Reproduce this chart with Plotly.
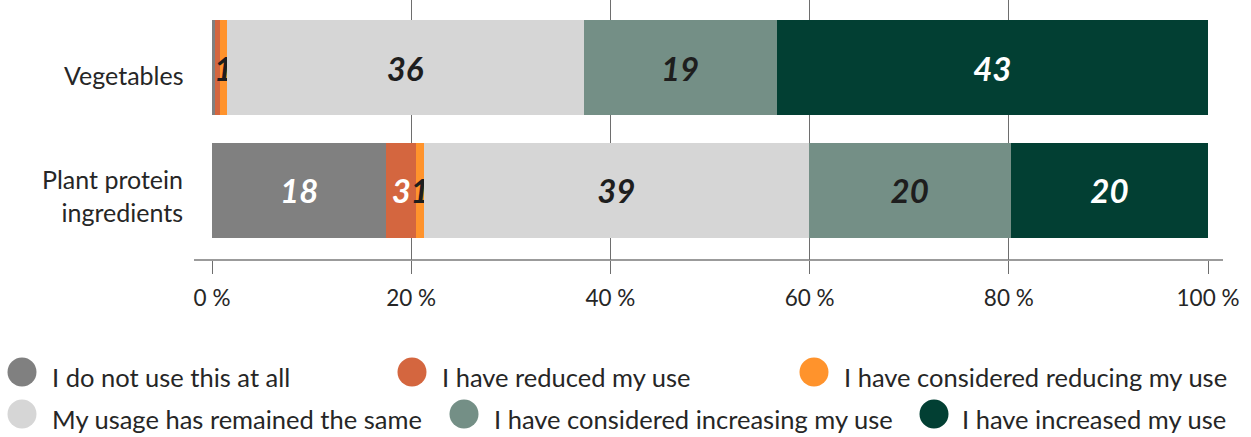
import plotly.graph_objects as go

# Survey answers, share of respondents (%)
categories = ["Vegetables", "Plant protein<br>ingredients"]
series_names = [
    "I do not use this at all",
    "I have reduced my use",
    "I have considered reducing my use",
    "My usage has remained the same",
    "I have considered increasing my use",
    "I have increased my use",
]
not_used = [0.3, 17.5]
reduced = [0.5, 3.0]
considered_reducing = [0.7, 0.8]
remained_same = [35.8, 38.6]
considered_increasing = [19.4, 20.3]
increased = [43.3, 19.8]
series_values = [not_used, reduced, considered_reducing,
                 remained_same, considered_increasing, increased]

x_ticks = [0, 20, 40, 60, 80, 100]
x_tick_labels = ["0 %", "20 %", "40 %", "60 %", "80 %", "100 %"]

colors = ["#808080", "#D4663F", "#FF932C", "#D6D6D6", "#748F86", "#023F33"]
label_colors = ["#FFFFFF", "#FFFFFF", "#1E1E1E", "#1E1E1E", "#1E1E1E", "#FFFFFF"]

FONT = "Lato"
TEXT = "#262626"

W, H = 1251, 437
M_L, M_R, M_T, M_B = 212, 43, 0, 177
PW, PH = W - M_L - M_R, H - M_T - M_B


def px_x(x):
    return (x - M_L) / PW


def px_y(y):
    return (M_T + PH - y) / PH


fig = go.Figure()
for name, vals, col, lcol in zip(series_names, series_values, colors, label_colors):
    labels = [str(round(v)) if round(v) > 0 else "" for v in vals]
    fig.add_trace(go.Bar(
        y=categories, x=vals, name=name, orientation="h",
        marker=dict(color=col, line=dict(width=0)),
        text=labels, textposition="inside", insidetextanchor="middle",
        constraintext="none", textangle=0,
        textfont=dict(family=FONT, size=33, color=lcol, weight="bold", style="italic"),
        hoverinfo="skip", showlegend=False,
    ))

shapes = []
annotations = []

# Category labels, right-aligned left of the bars
for cat in categories:
    multi = "<br>" in cat
    annotations.append(dict(
        xref="paper", yref="y", x=px_x(185), y=cat,
        xanchor="right", yanchor="middle", align="right",
        yshift=-5 if multi else -7, showarrow=False,
        text=cat, font=dict(family=FONT, size=25, color=TEXT),
    ))

# Legend: circle swatch + text, two justified rows
legend_pos = [
    (22, 372, 50, 377), (412, 372, 440, 377), (814, 372, 842, 377),
    (22, 414, 50, 419), (464, 414, 492, 419), (934, 414, 960, 419),
]
r = 14.5
for (cx, cy, tx, ty), name, col in zip(legend_pos, series_names, colors):
    shapes.append(dict(
        type="circle", xref="paper", yref="paper",
        xsizemode="pixel", ysizemode="pixel",
        xanchor=px_x(cx), yanchor=px_y(cy),
        x0=-r, x1=r, y0=-r, y1=r,
        fillcolor=col, line=dict(width=0),
    ))
    annotations.append(dict(
        xref="paper", yref="paper", x=px_x(tx), y=px_y(ty),
        xanchor="left", yanchor="middle", showarrow=False,
        text=name, font=dict(family=FONT, size=25.5, color=TEXT),
    ))

# Baseline extending past the plot area
shapes.append(dict(
    type="line", xref="paper", yref="paper",
    x0=px_x(194), x1=px_x(1223), y0=0, y1=0,
    line=dict(color="#7A7A7A", width=1.5),
))

fig.update_layout(
    width=W, height=H,
    margin=dict(l=M_L, r=M_R, t=M_T, b=M_B),
    barmode="stack", bargap=0.224,
    plot_bgcolor="white", paper_bgcolor="white",
    font=dict(family=FONT, color=TEXT),
    shapes=shapes, annotations=annotations,
    xaxis=dict(
        range=[0, 100], tickvals=x_ticks, ticktext=x_tick_labels,
        showgrid=True, gridcolor="#6E6E6E", gridwidth=1,
        zeroline=False, showline=False,
        ticks="outside", ticklen=13, tickcolor="#6E6E6E", tickwidth=1,
        ticklabelstandoff=5,
        tickfont=dict(family=FONT, size=22.5, color=TEXT),
    ),
    yaxis=dict(
        categoryorder="array", categoryarray=categories,
        range=[1.571, -0.551],
        showgrid=False, zeroline=False, showline=False, ticks="",
        showticklabels=False,
    ),
)

fig.write_html("out.html")
